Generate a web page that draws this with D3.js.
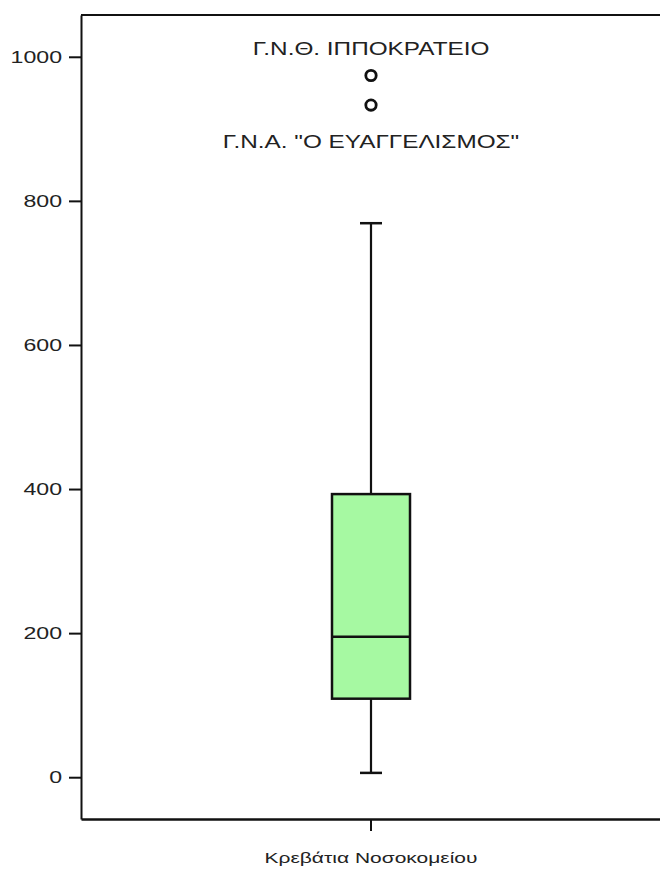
<!DOCTYPE html>
<html>
<head>
<meta charset="utf-8">
<script src="https://cdn.jsdelivr.net/npm/d3@7"></script>
<style>
  body { margin: 0; background: #fff; }
  text { font-family: "Liberation Sans", Arial, sans-serif; }
</style>
</head>
<body>
<div id="chart"></div>
<script>
// Data
const categories = ["Κρεβάτια Νοσοκομείου"];
const boxStats = [{ min: 6, q1: 109, median: 195, q3: 393, max: 769 }];
const outlierValues = [974, 933];
const outlierLabels = ["Γ.Ν.Θ. ΙΠΠΟΚΡΑΤΕΙΟ", "Γ.Ν.Α. \"Ο ΕΥΑΓΓΕΛΙΣΜΟΣ\""];
const yTicks = [0, 200, 400, 600, 800, 1000];

const width = 660, height = 869;
const plotLeft = 81, plotTop = 15, plotBottom = 819;

const svg = d3.select("#chart").append("svg")
  .attr("width", width)
  .attr("height", height);

const y = d3.scaleLinear().domain([-58, 1058]).range([plotBottom, plotTop]);
const x = d3.scaleBand().domain(categories).range([plotLeft, width + 1]);

// Frame: top and bottom lines run off the right edge
svg.append("line").attr("x1", plotLeft).attr("x2", width).attr("y1", plotTop).attr("y2", plotTop)
  .attr("stroke", "#111").attr("stroke-width", 2);

// Y axis (the original text is drawn wide, hence the horizontal stretch)
const yStretch = 1.36;
const yAxis = svg.append("g")
  .attr("transform", `translate(${plotLeft},0)`)
  .call(d3.axisLeft(y).tickValues(yTicks).tickSize(12).tickSizeOuter(0).tickFormat(d3.format("d")));
yAxis.select(".domain").attr("stroke", "#111").attr("stroke-width", 2);
yAxis.selectAll(".tick line").attr("stroke", "#111").attr("stroke-width", 2);
yAxis.selectAll(".tick text")
  .attr("fill", "#222")
  .style("font-size", "17px")
  .attr("x", -19 / yStretch)
  .attr("transform", `scale(${yStretch},1)`);

// X axis
const xStretch = 1.4;
const xAxis = svg.append("g")
  .attr("transform", `translate(0,${plotBottom})`)
  .call(d3.axisBottom(x).tickSize(12).tickSizeOuter(0));
xAxis.select(".domain").attr("stroke", "#111").attr("stroke-width", 2.5);
xAxis.selectAll(".tick line").attr("stroke", "#111").attr("stroke-width", 2);
xAxis.selectAll(".tick text")
  .attr("fill", "#222")
  .style("font-size", "15px")
  .attr("y", 33)
  .attr("transform", `scale(${xStretch},1)`);

// Box
const boxW = 78, capW = 22;
const lblStretch = 1.28;
const g = svg.append("g");
boxStats.forEach((s, i) => {
  const cx = x(categories[i]) + x.bandwidth() / 2;
  // whiskers
  g.append("line").attr("x1", cx).attr("x2", cx).attr("y1", y(s.max)).attr("y2", y(s.q3))
    .attr("stroke", "#111").attr("stroke-width", 2.2);
  g.append("line").attr("x1", cx).attr("x2", cx).attr("y1", y(s.q1)).attr("y2", y(s.min))
    .attr("stroke", "#111").attr("stroke-width", 2.2);
  [s.max, s.min].forEach(v => {
    g.append("line").attr("x1", cx - capW / 2).attr("x2", cx + capW / 2).attr("y1", y(v)).attr("y2", y(v))
      .attr("stroke", "#111").attr("stroke-width", 2.5);
  });
  g.append("rect")
    .attr("x", cx - boxW / 2).attr("width", boxW)
    .attr("y", y(s.q3)).attr("height", y(s.q1) - y(s.q3))
    .attr("fill", "#a6f9a2").attr("stroke", "#111").attr("stroke-width", 2.5);
  g.append("line").attr("x1", cx - boxW / 2).attr("x2", cx + boxW / 2)
    .attr("y1", y(s.median)).attr("y2", y(s.median))
    .attr("stroke", "#111").attr("stroke-width", 2.5);

  // outliers and their labels
  outlierValues.forEach((v, j) => {
    g.append("circle").attr("cx", cx).attr("cy", y(v)).attr("r", 5.2)
      .attr("fill", "#fff").attr("stroke", "#111").attr("stroke-width", 2.8);
    g.append("text")
      .attr("x", cx / lblStretch)
      .attr("y", y(v) + (j === 0 ? -21 : 43))
      .attr("text-anchor", "middle")
      .attr("transform", `scale(${lblStretch},1)`)
      .attr("fill", "#222")
      .style("font-size", "19px")
      .text(outlierLabels[j]);
  });
});
</script>
</body>
</html>
